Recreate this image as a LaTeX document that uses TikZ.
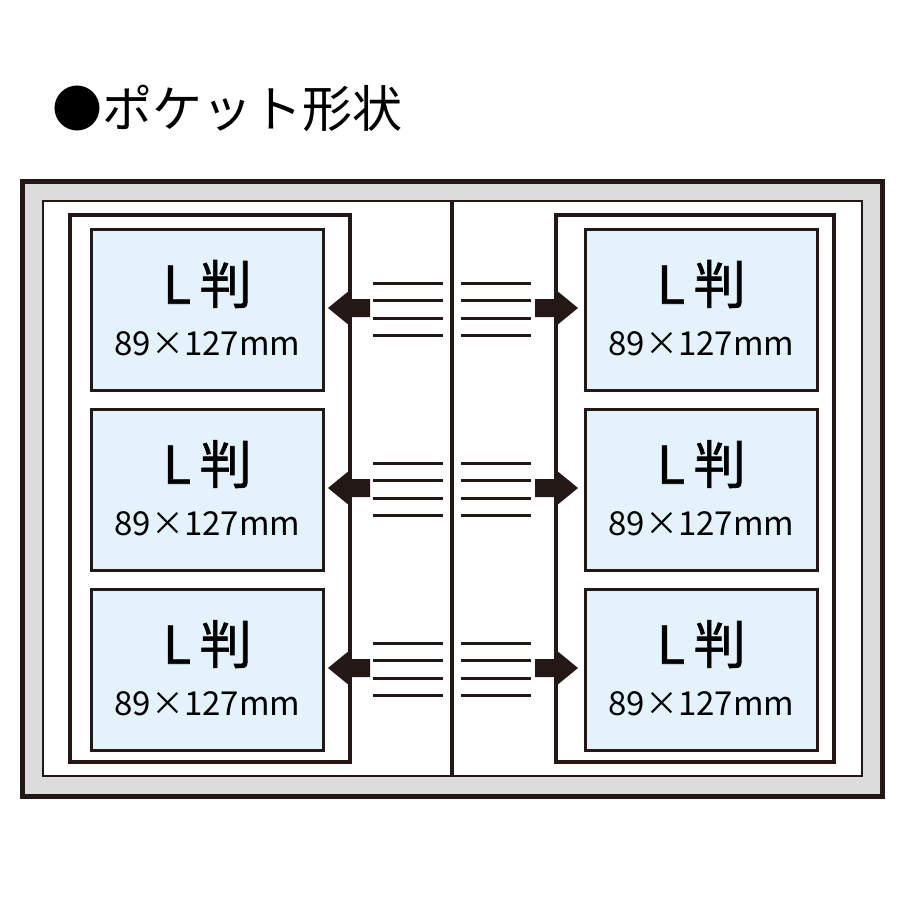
\documentclass[tikz,border=0pt]{standalone}
\usepackage{fontspec}
\setmainfont{Noto Sans CJK JP}
\newfontfamily\medfont{Noto Sans CJK JP}[FakeBold=1.3]
\definecolor{photo}{HTML}{E4F2FC}
\definecolor{band}{HTML}{DCDCDC}
\definecolor{ink}{HTML}{231815}
\begin{document}
\begin{tikzpicture}[x=1pt,y=-1pt,
  pocket/.style={draw=ink,line width=3.2pt,fill=white},
  photobox/.style={draw=ink,line width=2.6pt,fill=photo,minimum width=232pt,minimum height=161pt,inner sep=0pt,anchor=north west},
  gline/.style={draw=ink,line width=3pt},
  arr/.style={fill=ink}]
\useasboundingbox (0,0) rectangle (900,900);
\node[anchor=west,inner sep=0pt,font=\fontsize{50}{54}\selectfont] (title) at (52,108) {●ポケット形状};
\draw[draw=ink,line width=5pt,fill=band] (22,181) rectangle (882,796);
\draw[draw=ink,line width=2.6pt,fill=white] (43,201) rectangle (862,776);
\draw[ink,line width=3.5pt] (452,201) -- (452,776);
\draw[pocket] (70,215) rectangle (350,762);
\draw[pocket] (556,215) rectangle (834,762);
\foreach \y/\n in {228/a,408/b,588/c}{
  \node[photobox] (L\n) at (90,\y) {};
  \node[photobox] (R\n) at (584,\y) {};
  \foreach \s in {L,R}{
    \node[font=\medfont\fontsize{52}{54}\selectfont] at ([yshift=-56]\s\n.north) {L\,判};
    \node[font=\fontsize{33}{35}\selectfont] at ([yshift=-116]\s\n.north) {89×127mm};
  }
  \foreach \d in {55,72,90,107}{
    \draw[gline] (373,\y+\d) -- (443,\y+\d);
    \draw[gline] (461,\y+\d) -- (531,\y+\d);
  }
  \fill[arr] (328,\y+80) -- (350,\y+62) -- (350,\y+71) -- (370,\y+71) -- (370,\y+89) -- (350,\y+89) -- (350,\y+98) -- cycle;
  \fill[arr] (578,\y+80) -- (556,\y+62) -- (556,\y+71) -- (535,\y+71) -- (535,\y+89) -- (556,\y+89) -- (556,\y+98) -- cycle;
}
\end{tikzpicture}
\end{document}
